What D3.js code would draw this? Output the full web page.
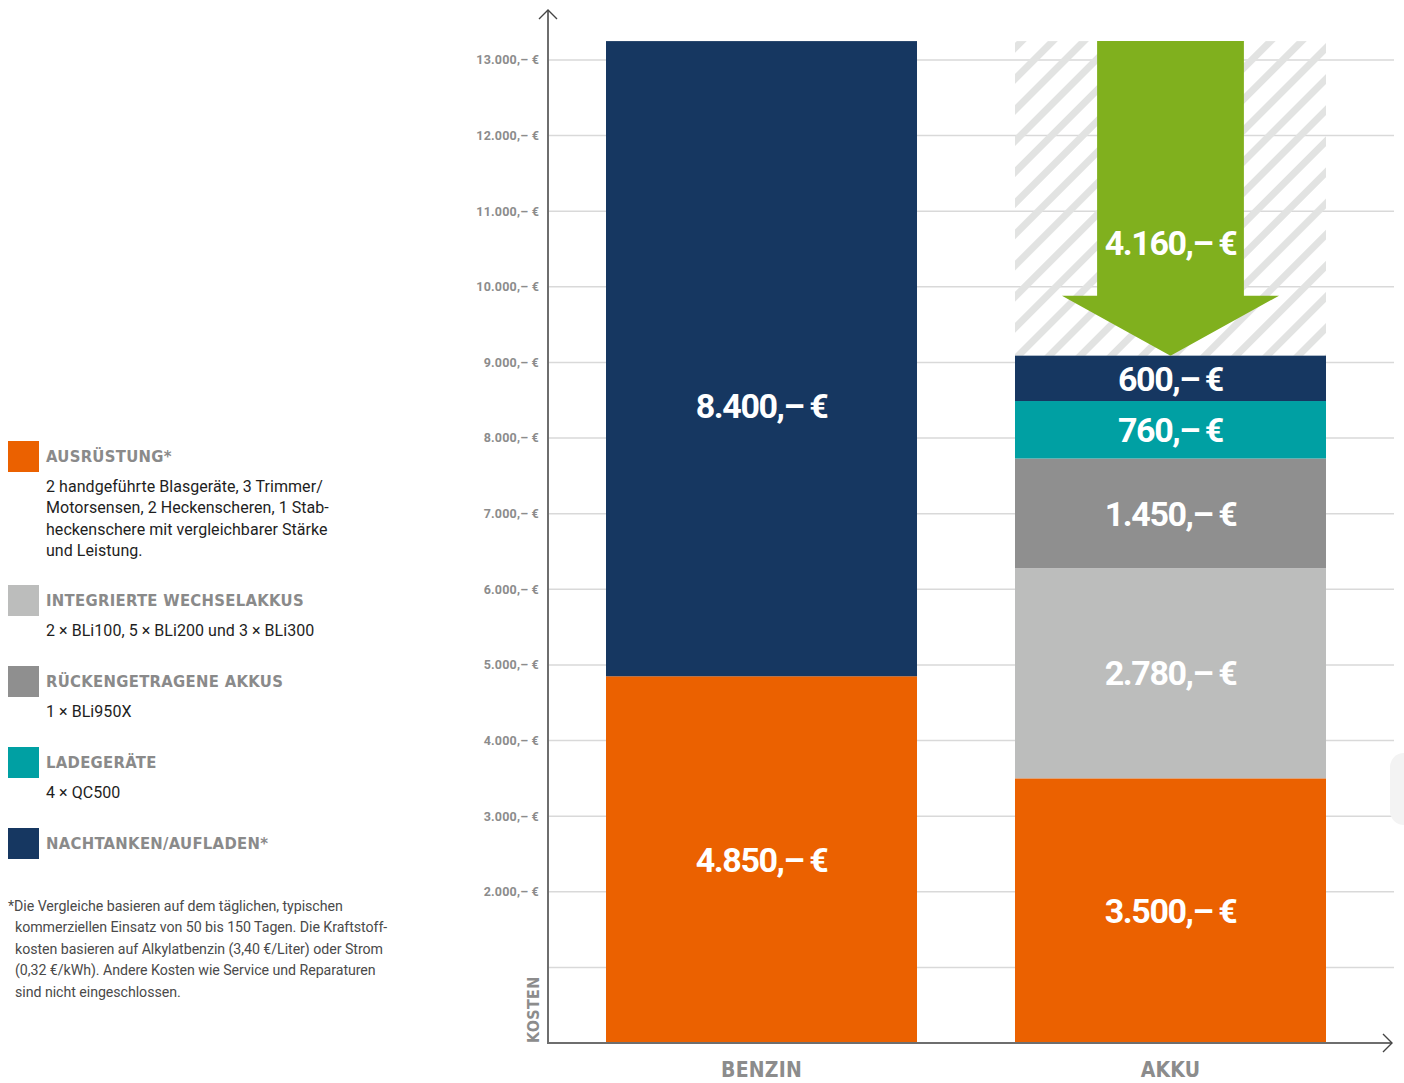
<!DOCTYPE html>
<html lang="de">
<head>
<meta charset="utf-8">
<title>Kostenvergleich Benzin – Akku</title>
<script src="https://cdn.jsdelivr.net/npm/d3@7"></script>
<style>
  html, body { margin: 0; padding: 0; background: #fff; }
  svg { display: block; }
  .cond { font-family: "Liberation Sans Narrow", "DejaVu Sans Condensed", Roboto, sans-serif; font-weight: 700; }
  .txt { font-family: Roboto, "Noto Sans", sans-serif; }
</style>
</head>
<body>
<svg id="chart" width="1404" height="1083"></svg>
<script>
// Antriebsarten (x-Achse)
const categories = ["BENZIN", "AKKU"];

// Kostenarten, von unten nach oben gestapelt
const costKeys = ["ausruestung", "wechselakkus", "rueckenakkus", "ladegeraete", "nachtanken"];
const costTitles = ["AUSRÜSTUNG*", "INTEGRIERTE WECHSELAKKUS", "RÜCKENGETRAGENE AKKUS", "LADEGERÄTE", "NACHTANKEN/AUFLADEN*"];
const costDescriptions = [
  ["2 handgeführte Blasgeräte, 3 Trimmer/", "Motorsensen, 2 Heckenscheren, 1 Stab-", "heckenschere mit vergleichbarer Stärke", "und Leistung."],
  ["2 × BLi100, 5 × BLi200 und 3 × BLi300"],
  ["1 × BLi950X"],
  ["4 × QC500"],
  []
];
const costColors = ["#eb6100", "#bcbdbc", "#8f8f8f", "#00a0a3", "#163761"];

// Kosten in Euro je Antriebsart
const benzinValues = [4850, 0, 0, 0, 8400];
const akkuValues = [3500, 2780, 1450, 760, 600];

// y-Achse
const yTicks = [1000, 2000, 3000, 4000, 5000, 6000, 7000, 8000, 9000, 10000, 11000, 12000, 13000];
const yLabelledFrom = 2000;
const yMax = 13000;

const footnote = [
  "*Die Vergleiche basieren auf dem täglichen, typischen",
  "kommerziellen Einsatz von 50 bis 150 Tagen. Die Kraftstoff-",
  "kosten basieren auf Alkylatbenzin (3,40 €/Liter) oder Strom",
  "(0,32 €/kWh). Andere Kosten wie Service und Reparaturen",
  "sind nicht eingeschlossen."
];

const de = d3.formatLocale({ decimal: ",", thousands: ".", grouping: [3], currency: ["", " €"] });
const fmtNum = de.format(",d");
const euro = v => fmtNum(v) + ",–\u2009€";

const svg = d3.select("#chart");

const axisX = 548, baseY = 1043, topY = 60;
const y = d3.scaleLinear().domain([0, yMax]).range([baseY, topY]);
const x = d3.scaleBand().domain(categories).range([606, 1326]).paddingInner(0.2396).paddingOuter(0);
const bw = x.bandwidth();

const rows = [benzinValues, akkuValues].map((vals, i) => {
  const r = { cat: categories[i] };
  costKeys.forEach((k, j) => r[k] = vals[j]);
  return r;
});
const series = d3.stack().keys(costKeys)(rows);
const totals = rows.map(r => d3.sum(costKeys, k => r[k]));
const savings = totals[0] - totals[1];

// Schraffur für die Einsparung
const defs = svg.append("defs");
const pat = defs.append("pattern")
  .attr("id", "hatch").attr("patternUnits", "userSpaceOnUse")
  .attr("width", 22).attr("height", 22)
  .attr("patternTransform", "rotate(45)");
pat.append("rect").attr("x", 0).attr("y", 0).attr("width", 7).attr("height", 22).attr("fill", "#e2e3e2");

// Gitternetz
svg.append("g").selectAll("line").data(yTicks).join("line")
  .attr("x1", axisX).attr("x2", 1394)
  .attr("y1", d => y(d)).attr("y2", d => y(d))
  .attr("stroke", "#d9d9d9").attr("stroke-width", 1.5);

// dezente Form am rechten Rand
svg.append("rect").attr("x", 1390).attr("y", 753).attr("width", 40).attr("height", 72).attr("rx", 14)
  .attr("fill", "#f3f3f3");

// Einsparungsfläche
svg.append("rect")
  .attr("x", x("AKKU")).attr("width", bw)
  .attr("y", y(totals[0])).attr("height", y(totals[1]) - y(totals[0]))
  .attr("fill", "url(#hatch)");

// Gestapelte Balken
const segG = svg.append("g");
series.forEach((s, j) => {
  segG.selectAll(null).data(s.filter(d => d[1] - d[0] > 0)).join("rect")
    .attr("x", d => x(d.data.cat)).attr("width", bw)
    .attr("y", d => y(d[1])).attr("height", d => y(d[0]) - y(d[1]))
    .attr("fill", costColors[j]);
});

// Wertbeschriftungen
const valueFont = { size: 34, spacing: -1.4 };
const labelShift = { "BENZIN|nachtanken": 47 };
const lblG = svg.append("g");
series.forEach((s, j) => {
  lblG.selectAll(null).data(s.filter(d => d[1] - d[0] > 0)).join("text")
    .attr("class", "txt")
    .attr("x", d => x(d.data.cat) + bw / 2)
    .attr("y", d => (y(d[0]) + y(d[1])) / 2 + (labelShift[d.data.cat + "|" + s.key] || 0))
    .attr("dy", "0.36em")
    .attr("text-anchor", "middle")
    .attr("fill", "#fff").attr("font-size", valueFont.size).attr("font-weight", 700)
    .attr("letter-spacing", valueFont.spacing)
    .text(d => euro(d[1] - d[0]));
});

// Pfeil der Einsparung
const cx = x("AKKU") + bw / 2;
const shaftHalf = bw * 0.236, headHalf = bw * 0.349, headH = 60;
const aTop = y(totals[0]), aTip = y(totals[1]);
svg.append("path")
  .attr("d", d3.line()([
    [cx - shaftHalf, aTop], [cx + shaftHalf, aTop], [cx + shaftHalf, aTip - headH],
    [cx + headHalf, aTip - headH], [cx, aTip], [cx - headHalf, aTip - headH],
    [cx - shaftHalf, aTip - headH]
  ]) + "Z")
  .attr("fill", "#80b01e");
svg.append("text").attr("class", "txt")
  .attr("x", cx).attr("y", y(totals[1] + savings * 0.36)).attr("dy", "0.36em")
  .attr("text-anchor", "middle").attr("fill", "#fff")
  .attr("font-size", valueFont.size).attr("font-weight", 700).attr("letter-spacing", valueFont.spacing)
  .text(euro(savings));

// y-Achsenbeschriftung
svg.append("g").selectAll("text").data(yTicks.filter(t => t >= yLabelledFrom)).join("text")
  .attr("class", "txt")
  .attr("x", 539).attr("y", d => y(d)).attr("dy", "0.35em")
  .attr("text-anchor", "end").attr("fill", "#8c8c8c")
  .attr("font-size", 12.5).attr("font-weight", 700).attr("letter-spacing", 0.2)
  .text(d => fmtNum(d) + ",– €");

// Achsen mit Pfeilspitzen
const axisCol = "#6e6e6e";
svg.append("line").attr("x1", axisX).attr("x2", axisX).attr("y1", 10).attr("y2", baseY + 1)
  .attr("stroke", axisCol).attr("stroke-width", 2);
svg.append("line").attr("x1", axisX - 1).attr("x2", 1392).attr("y1", baseY).attr("y2", baseY)
  .attr("stroke", axisCol).attr("stroke-width", 2);
svg.append("path").attr("d", `M${axisX - 9},${19} L${axisX},${10} L${axisX + 9},${19}`)
  .attr("fill", "none").attr("stroke", "#444").attr("stroke-width", 1.4);
svg.append("path").attr("d", `M1383,${baseY - 9} L1392,${baseY} L1383,${baseY + 9}`)
  .attr("fill", "none").attr("stroke", "#444").attr("stroke-width", 1.4);

svg.append("text").attr("class", "cond")
  .attr("transform", `translate(539,${baseY}) rotate(-90)`)
  .attr("fill", "#8c8c8c").attr("font-size", 16).attr("letter-spacing", 0.3)
  .text("KOSTEN");

// Kategorien
svg.append("g").selectAll("text").data(categories).join("text")
  .attr("class", "cond")
  .attr("x", d => x(d) + bw / 2).attr("y", 1077)
  .attr("text-anchor", "middle").attr("fill", "#8c8c8c")
  .attr("font-size", 21).attr("letter-spacing", 0.2)
  .text(d => d);

// Legende
let ly = 441;
const legG = svg.append("g");
costKeys.forEach((k, i) => {
  const g = legG.append("g").attr("transform", `translate(0,${ly})`);
  g.append("rect").attr("x", 8).attr("y", 0).attr("width", 31).attr("height", 31).attr("fill", costColors[i]);
  g.append("text").attr("class", "cond").attr("x", 46).attr("y", 21)
    .attr("fill", "#8a8a8a").attr("font-size", 16.5).attr("letter-spacing", 0.3)
    .text(costTitles[i]);
  costDescriptions[i].forEach((line, li) => {
    g.append("text").attr("class", "txt").attr("x", 46).attr("y", 51 + li * 21.3)
      .attr("fill", "#1e1e1e").attr("font-size", 16).attr("letter-spacing", 0.05)
      .text(line);
  });
  ly += 81 + Math.max(0, costDescriptions[i].length - 1) * 21;
});

// Fußnote
svg.append("g").selectAll("text").data(footnote).join("text")
  .attr("class", "txt")
  .attr("x", (d, i) => i === 0 ? 8 : 15).attr("y", (d, i) => 911 + i * 21.4)
  .attr("fill", "#4a4a4a").attr("font-size", 14.2).attr("letter-spacing", -0.05)
  .text(d => d);
</script>
</body>
</html>
